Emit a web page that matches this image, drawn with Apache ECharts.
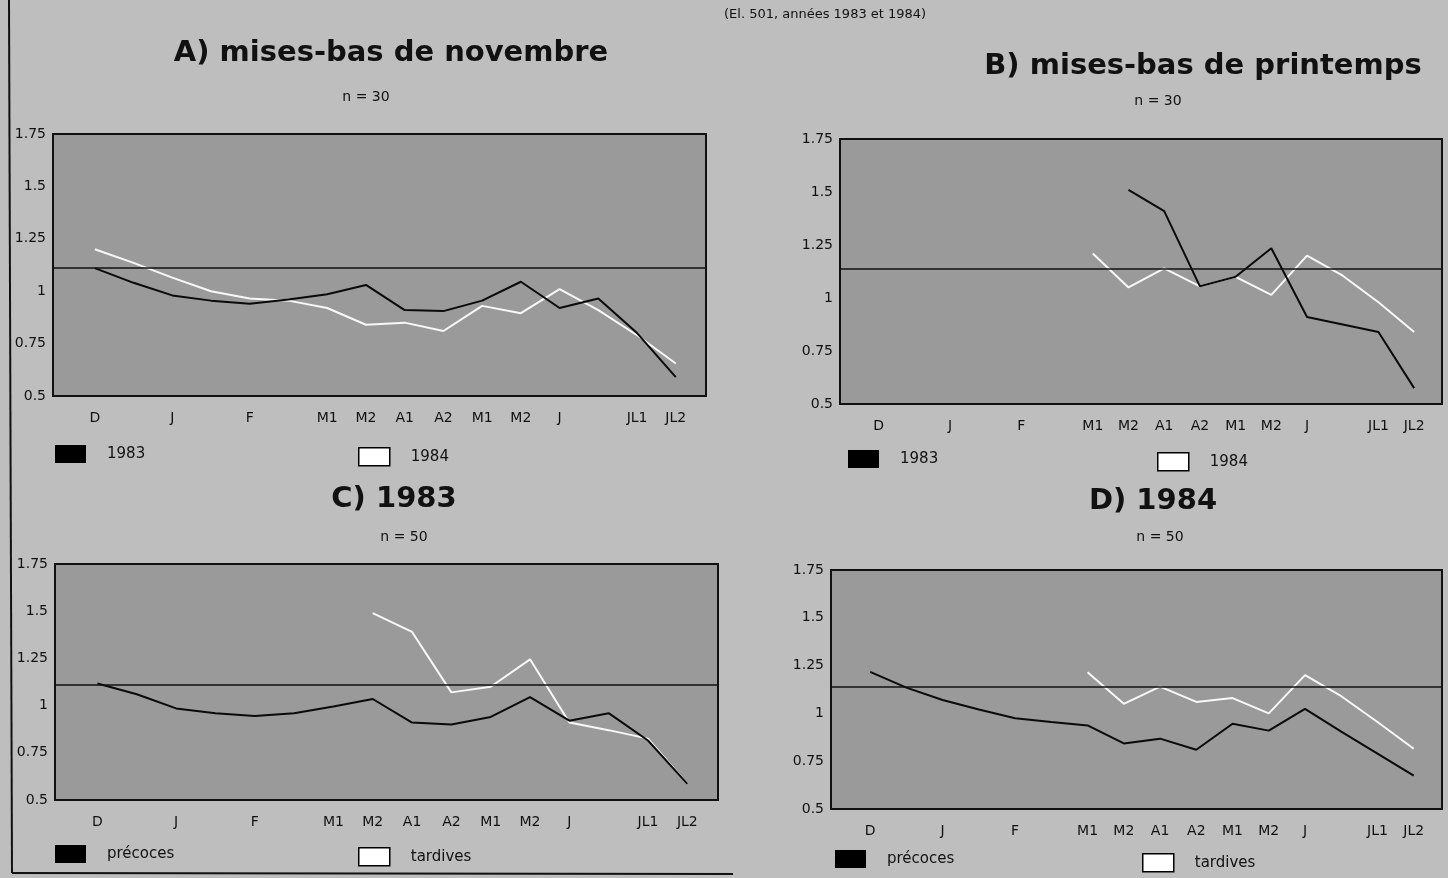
<!DOCTYPE html>
<html><head><meta charset="utf-8">
<script src="https://cdn.jsdelivr.net/npm/echarts@6/dist/echarts.min.js"></script>
<style>html,body{margin:0;padding:0;background:#bebebe;} #c{width:1448px;height:878px;}</style>
</head><body><div id="c"></div>
<script>
// ---- data ----
const xLabels = ['D','','J','','F','','M1','M2','A1','A2','M1','M2','J','','JL1','JL2'];
const labelSlots = [0,2,4,6,7,8,9,10,11,12,14,15];

const novembre1983 = [1.11,1.04,0.98,0.955,0.94,0.96,0.985,1.03,0.91,0.905,0.955,1.045,0.92,0.965,0.80,0.59];
const novembre1984 = [1.20,1.135,1.065,1.0,0.965,0.955,0.92,0.84,0.85,0.81,0.93,0.895,1.01,0.91,0.79,0.655];
const printemps1983 = [null,null,null,null,null,null,null,1.51,1.41,1.055,1.10,1.235,0.91,0.875,0.84,0.575];
const printemps1984 = [null,null,null,null,null,null,1.21,1.05,1.14,1.055,1.10,1.015,1.20,1.105,0.98,0.84];
const precoces1983 = [1.117,1.06,0.985,0.96,0.945,0.96,0.995,1.035,0.91,0.90,0.94,1.045,0.92,0.96,0.815,0.585];
const tardives1983 = [null,null,null,null,null,null,null,1.49,1.39,1.07,1.10,1.245,0.91,0.87,0.825,0.585];
const precoces1984 = [1.217,1.135,1.07,1.02,0.975,0.955,0.937,0.843,0.868,0.81,0.946,0.91,1.024,0.905,0.79,0.675];
const tardives1984 = [null,null,null,null,null,null,1.215,1.05,1.14,1.06,1.08,1.00,1.20,1.09,0.955,0.815];
const meanLevel = [1.107, 1.138, 1.11, 1.136];

const panelTitles = ['A) mises-bas de novembre','B) mises-bas de printemps','C) 1983','D) 1984'];
const panelN = ['n = 30','n = 30','n = 50','n = 50'];
const subtitle = '(El. 501, années 1983 et 1984)';

// ---- layout ----
const grids = [
  {left:53, top:134, width:653, height:262},
  {left:840, top:139, width:602, height:265},
  {left:55, top:564, width:663, height:236},
  {left:831, top:570, width:611, height:239}
];
const panels = [
  {black:{name:'1983', data:novembre1983}, white:{name:'1984', data:novembre1984}},
  {black:{name:'1983', data:printemps1983}, white:{name:'1984', data:printemps1984}},
  {black:{name:'précoces', data:precoces1983}, white:{name:'tardives', data:tardives1983}},
  {black:{name:'précoces', data:precoces1984}, white:{name:'tardives', data:tardives1984}}
];
const titlePos = [[391,53],[1203,66],[394,499],[1153,501]];
const nPos = [[366,97],[1158,101],[404,537],[1160,537]];
const legendPos = [
  [[55,445],[358,447]],
  [[848,450],[1157,452]],
  [[55,845],[358,847]],
  [[835,850],[1142,853]]
];

const FONT = '"DejaVu Sans", "Liberation Sans", sans-serif';
const INK = '#111';

function pairs(arr){ const out=[]; arr.forEach((v,i)=>{ if(v!==null) out.push([i,v]); }); return out; }

const option = {
  animation:false,
  backgroundColor:'#bebebe',
  grid: grids.map(g=>Object.assign({show:true, backgroundColor:'#9a9a9a', borderColor:INK, borderWidth:2, containLabel:false}, g)),
  xAxis: grids.map((g,i)=>({
    type:'value', gridIndex:i, min:-1.08, max:15.78,
    axisLine:{show:false}, axisTick:{show:false}, splitLine:{show:false},
    axisLabel:{customValues:labelSlots, formatter:v=>xLabels[Math.round(v)], margin:15,
      fontSize:14, color:INK, fontFamily:FONT}
  })),
  yAxis: grids.map((g,i)=>({
    type:'value', gridIndex:i, min:0.5, max:1.75, interval:0.25,
    axisLine:{show:false}, axisTick:{show:false}, splitLine:{show:false},
    axisLabel:{margin:7, fontSize:14, color:INK, fontFamily:FONT}
  })),
  legend: [],
  series: [],
  graphic: []
};

panels.forEach((p,i)=>{
  option.series.push({
    type:'line', name:p.white.name, xAxisIndex:i, yAxisIndex:i, data:pairs(p.white.data),
    symbol:'none', lineStyle:{color:'#f8f8f8', width:2}, itemStyle:{color:'#ffffff'}, z:3
  });
  option.series.push({
    type:'line', name:p.black.name, xAxisIndex:i, yAxisIndex:i, data:pairs(p.black.data),
    symbol:'none', lineStyle:{color:'#0a0a0a', width:2}, itemStyle:{color:'#000'}, z:4,
    markLine:{silent:true, symbol:'none', label:{show:false},
      lineStyle:{color:INK, width:1.5, type:'solid'}, data:[{yAxis:meanLevel[i]}]}
  });
  const lp = legendPos[i];
  [[p.black.name, {color:'#000', borderColor:'#000', borderWidth:0}, lp[0]],
   [p.white.name, {color:'#fff', borderColor:'#000', borderWidth:1.5}, lp[1]]].forEach(([nm, st, pos])=>{
    option.legend.push({
      data:[{name:nm, itemStyle:st, icon:'rect'}], left:pos[0], top:pos[1], padding:0,
      itemWidth:31, itemHeight:18, selectedMode:false,
      textStyle:{fontSize:15, color:INK, fontFamily:FONT, padding:[0,0,0,16]}
    });
  });
  option.graphic.push({type:'text', silent:true, style:{text:panelTitles[i], x:titlePos[i][0], y:titlePos[i][1],
    textAlign:'center', textVerticalAlign:'middle', align:'center', verticalAlign:'middle',
    font:'bold 29px '+FONT, fill:INK}});
  option.graphic.push({type:'text', silent:true, style:{text:panelN[i], x:nPos[i][0], y:nPos[i][1],
    textAlign:'center', textVerticalAlign:'middle', align:'center', verticalAlign:'middle',
    font:'14px '+FONT, fill:INK}});
});
option.graphic.push({type:'text', silent:true, style:{text:subtitle, x:724, y:15,
  textAlign:'left', textVerticalAlign:'middle', align:'left', verticalAlign:'middle',
  font:'13px '+FONT, fill:INK}});
option.graphic.push({type:'line', silent:true, shape:{x1:9, y1:0, x2:12, y2:873}, style:{stroke:INK, lineWidth:2}});
option.graphic.push({type:'line', silent:true, shape:{x1:12, y1:873, x2:733, y2:874}, style:{stroke:INK, lineWidth:2}});

const chart = echarts.init(document.getElementById('c'), null, {renderer:'canvas'});
chart.setOption(option);
</script></body></html>
